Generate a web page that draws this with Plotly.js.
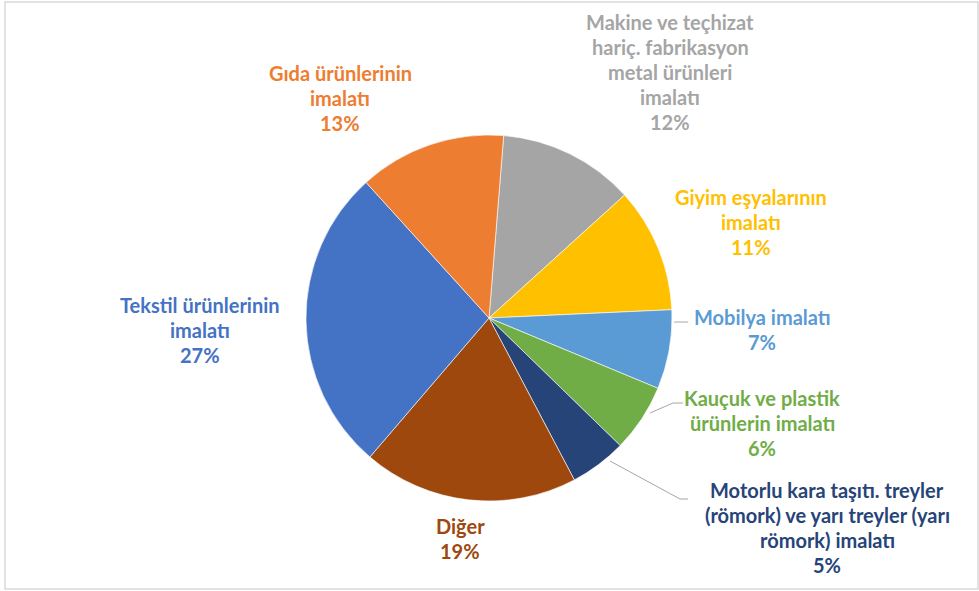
<!DOCTYPE html>
<html>
<head>
<meta charset="utf-8">
<script src="https://cdn.plot.ly/plotly-3.0.1.min.js"></script>
<style>html,body{margin:0;padding:0;background:#fff;}#chart{width:979px;height:591px;}</style>
</head>
<body>
<div id="chart"></div>
<script>
// Data
var categories = [
  "Makine ve teçhizat hariç. fabrikasyon metal ürünleri imalatı",
  "Giyim eşyalarının imalatı",
  "Mobilya imalatı",
  "Kauçuk ve plastik ürünlerin imalatı",
  "Motorlu kara taşıtı. treyler (römork) ve yarı treyler (yarı römork) imalatı",
  "Diğer",
  "Tekstil ürünlerinin imalatı",
  "Gıda ürünlerinin imalatı"
];
var values = [12, 11, 7, 6, 5, 19, 27, 13];
var percentLabels = ["12%", "11%", "7%", "6%", "5%", "19%", "27%", "13%"];
var labelLines = [
  ["Makine ve teçhizat", "hariç. fabrikasyon", "metal ürünleri", "imalatı"],
  ["Giyim eşyalarının", "imalatı"],
  ["Mobilya imalatı"],
  ["Kauçuk ve plastik", "ürünlerin imalatı"],
  ["Motorlu kara taşıtı. treyler", "(römork) ve yarı treyler (yarı", "römork) imalatı"],
  ["Diğer"],
  ["Tekstil ürünlerinin", "imalatı"],
  ["Gıda ürünlerinin", "imalatı"]
];

// Styles
var colors = ["#A5A5A5", "#FFC000", "#5B9BD5", "#70AD47", "#264478", "#9E480E", "#4472C4", "#ED7D31"];
var textColors = ["#A5A5A5", "#FFC000", "#5B9BD5", "#70AD47", "#264478", "#9E480E", "#4472C4", "#ED7D31"];
var labelPos = [[670, 22], [751, 197], [762, 317], [762, 398], [827, 490], [460, 526], [200, 305], [340, 73]];
var lineGap = 25;

var W = 979, H = 591;
function px(x) { return x / W; }
function py(y) { return 1 - y / H; }

var cx = 489, cy = 318, r = 183;

var annotations = [];
categories.forEach(function (c, i) {
  var lines = labelLines[i].concat([percentLabels[i]]);
  lines.forEach(function (t, j) {
    annotations.push({
      xref: 'paper', yref: 'paper',
      x: px(labelPos[i][0]), y: py(labelPos[i][1] + j * lineGap),
      xanchor: 'center', yanchor: 'middle',
      text: '<b>' + t + '</b>', showarrow: false,
      font: {family: 'Lato, "Open Sans", sans-serif', size: 20, color: textColors[i]}
    });
  });
});

function seg(x0, y0, x1, y1) {
  return {type: 'line', xref: 'paper', yref: 'paper', x0: px(x0), y0: py(y0), x1: px(x1), y1: py(y1),
    line: {color: '#a6a6a6', width: 1}};
}

var shapes = [
  {type: 'rect', xref: 'paper', yref: 'paper', x0: px(5), x1: px(978), y0: py(589), y1: py(2),
    line: {color: '#d9d9d9', width: 1.5}, fillcolor: 'rgba(0,0,0,0)'},
  seg(674, 322, 688, 322),
  seg(650, 413, 673, 403), seg(673, 403, 683, 403),
  seg(610, 461, 680, 499), seg(680, 499, 688, 499)
];

var trace = {
  type: 'pie',
  labels: categories,
  values: values,
  sort: false,
  direction: 'clockwise',
  rotation: 4.6,
  textinfo: 'none',
  hoverinfo: 'label+percent',
  marker: {colors: colors, line: {color: '#ffffff', width: 0.6}},
  domain: {x: [px(cx - r), px(cx + r)], y: [py(cy + r), py(cy - r)]},
  showlegend: false
};

var layout = {
  width: W, height: H,
  margin: {l: 0, r: 0, t: 0, b: 0},
  paper_bgcolor: '#ffffff',
  plot_bgcolor: '#ffffff',
  showlegend: false,
  annotations: annotations,
  shapes: shapes
};

Plotly.newPlot('chart', [trace], layout, {displayModeBar: false, staticPlot: true});
</script>
</body>
</html>
